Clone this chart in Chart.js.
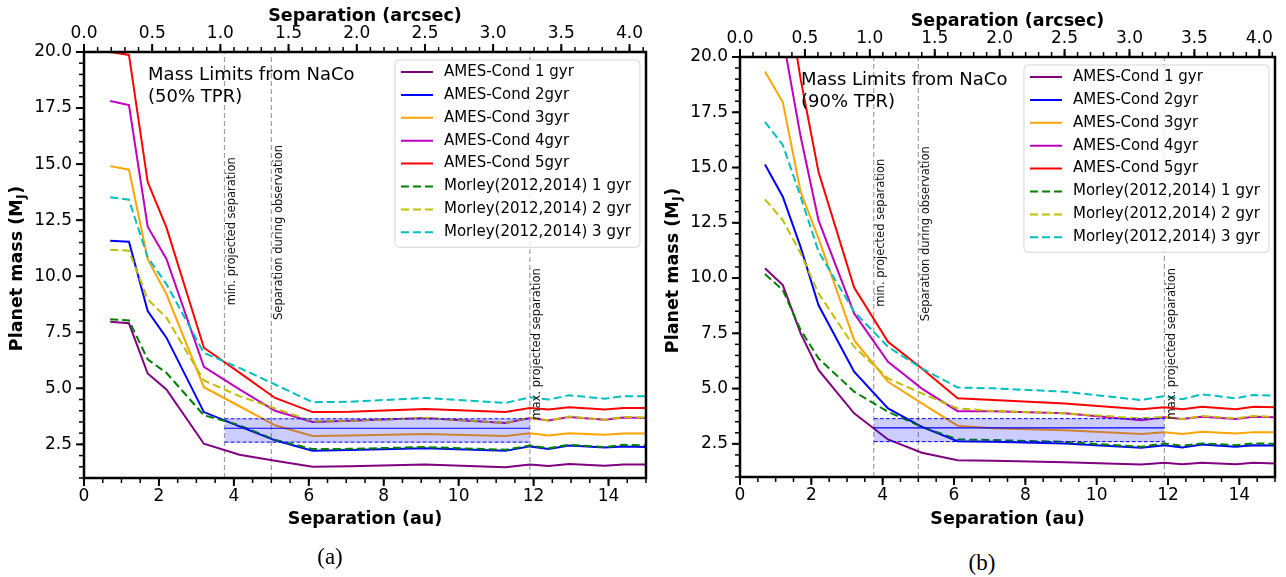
<!DOCTYPE html>
<html lang="en">
<head>
<meta charset="UTF-8">
<title>Mass limits from NaCo</title>
<script src="https://cdn.jsdelivr.net/npm/chart.js@4.4.4/dist/chart.umd.js"></script>
<style>
  body { margin: 0; background: #fff; width: 1286px; height: 577px; position: relative; overflow: hidden; }
  canvas { position: absolute; }
  #left { left: 0; top: 0; }
  #right { left: 656px; top: 5px; }
  .cap { position: absolute; font-family: "Liberation Serif", serif; font-size: 23px; transform: translate(-50%, -50%); }
</style>
</head>
<body>
<canvas id="left" width="655" height="545"></canvas>
<canvas id="right" width="630" height="540"></canvas>
<div class="cap" style="left:330px; top:557px">(a)</div>
<div class="cap" style="left:982px; top:563px">(b)</div>
<script>
// separation grid (au) shared by all curves
const sepAu = [0.7, 1.2, 1.7, 2.2, 3.2, 4.15, 5.1, 6.1, 7.1, 9.1, 11.25, 11.9, 12.4, 12.95, 13.9, 14.4, 15.0];
const distPc = 3.64; // au per arcsec for the top axis

const seriesNames = ['AMES-Cond 1 gyr', 'AMES-Cond 2gyr', 'AMES-Cond 3gyr', 'AMES-Cond 4gyr', 'AMES-Cond 5gyr',
  'Morley(2012,2014) 1 gyr', 'Morley(2012,2014) 2 gyr', 'Morley(2012,2014) 3 gyr'];
const seriesColors = ['#800080', '#0000ff', '#ffa500', '#bf00bf', '#ff0000', '#008000', '#bfbf00', '#00bfbf'];

// 50% TPR (panel a)
const ames1gyr50 = [7.97, 7.9, 5.66, 4.95, 2.53, 2.04, 1.77, 1.5, 1.52, 1.6, 1.48, 1.6, 1.54, 1.62, 1.55, 1.6, 1.6];
const ames2gyr50 = [11.58, 11.54, 8.45, 7.26, 3.94, 3.3, 2.68, 2.22, 2.25, 2.33, 2.21, 2.41, 2.29, 2.45, 2.36, 2.41, 2.38];
const ames3gyr50 = [14.91, 14.75, 10.76, 9.2, 5.05, 4.2, 3.35, 2.87, 2.89, 2.96, 2.87, 3.0, 2.9, 3.0, 2.93, 2.99, 2.99];
const ames4gyr50 = [17.81, 17.63, 12.21, 10.77, 5.96, 4.95, 4.0, 3.5, 3.55, 3.68, 3.45, 3.68, 3.56, 3.72, 3.6, 3.7, 3.68];
const ames5gyr50 = [20.0, 19.87, 14.2, 12.18, 6.81, 5.7, 4.57, 3.94, 3.95, 4.08, 3.94, 4.12, 4.05, 4.15, 4.05, 4.12, 4.12];
const morley1gyr50 = [8.08, 8.03, 6.29, 5.69, 3.8, 3.35, 2.7, 2.29, 2.3, 2.38, 2.26, 2.45, 2.33, 2.48, 2.38, 2.48, 2.46];
const morley2gyr50 = [11.18, 11.14, 8.97, 8.15, 5.35, 4.65, 4.1, 3.53, 3.55, 3.68, 3.45, 3.7, 3.56, 3.74, 3.6, 3.72, 3.7];
const morley3gyr50 = [13.52, 13.41, 10.84, 9.65, 6.58, 5.91, 5.17, 4.38, 4.4, 4.57, 4.35, 4.6, 4.5, 4.69, 4.54, 4.65, 4.65];

// 90% TPR (panel b)
const ames1gyr90 = [10.44, 9.68, 7.5, 5.84, 3.88, 2.7, 2.1, 1.76, 1.73, 1.67, 1.57, 1.64, 1.58, 1.65, 1.58, 1.64, 1.61];
const ames2gyr90 = [15.14, 13.68, 11.4, 8.78, 5.76, 4.1, 3.27, 2.62, 2.59, 2.52, 2.32, 2.44, 2.34, 2.47, 2.37, 2.44, 2.42];
const ames3gyr90 = [19.34, 17.95, 13.9, 11.8, 7.19, 5.31, 4.33, 3.32, 3.2, 3.12, 2.94, 3.02, 2.94, 3.05, 2.97, 3.03, 3.03];
const ames4gyr90 = [22.5, 20.9, 16.4, 12.62, 8.4, 6.21, 5.0, 3.98, 3.98, 3.88, 3.57, 3.7, 3.62, 3.72, 3.62, 3.72, 3.7];
const ames5gyr90 = [25.0, 24.0, 19.0, 14.81, 9.57, 7.12, 5.91, 4.56, 4.48, 4.33, 4.06, 4.15, 4.06, 4.18, 4.07, 4.18, 4.15];
const morley1gyr90 = [10.18, 9.46, 7.65, 6.37, 4.86, 3.95, 3.27, 2.7, 2.67, 2.59, 2.37, 2.52, 2.41, 2.52, 2.44, 2.52, 2.5];
const morley2gyr90 = [13.56, 12.62, 11.12, 9.31, 6.89, 5.46, 4.78, 4.1, 3.99, 3.88, 3.65, 3.72, 3.62, 3.76, 3.65, 3.76, 3.72];
const morley3gyr90 = [17.07, 16.02, 13.68, 11.2, 8.48, 6.89, 5.91, 5.05, 5.01, 4.86, 4.48, 4.66, 4.52, 4.74, 4.56, 4.71, 4.68];

// separation markers (au) and where their labels start (Mj)
const sepLines = [3.75, 5.0, 11.9];
const sepLabels = ['min. projected separation', 'Separation during observation', 'max. projected separation'];
const sepLabelY = [8.7, 8.05, 3.6];

// shaded mass range between min and max projected separation
const bandX = [3.75, 11.9];
const bandTop = 3.64, bandMid = 3.22, bandBottom = 2.6;

// axis ticks
const auTicks = [0, 2, 4, 6, 8, 10, 12, 14];
const arcsecTicks = [0, 0.5, 1.0, 1.5, 2.0, 2.5, 3.0, 3.5, 4.0];
const massTicks = [2.5, 5, 7.5, 10, 12.5, 15, 17.5, 20];
const yMin = 1, yMax = 20;

const FONT = '"DejaVu Sans", sans-serif';

function minorValues(min, max, step) {
  const out = [];
  for (let k = Math.ceil(min / step - 1e-9); k * step <= max + 1e-9; k++) out.push(k * step);
  return out;
}

function tickMarks(ctx, scale, values, len, width) {
  ctx.lineWidth = width;
  values.forEach(v => {
    const p = scale.getPixelForValue(v);
    ctx.beginPath();
    if (scale.position === 'left') { ctx.moveTo(scale.right, p); ctx.lineTo(scale.right - len, p); }
    else if (scale.position === 'bottom') { ctx.moveTo(p, scale.top); ctx.lineTo(p, scale.top + len); }
    else { ctx.moveTo(p, scale.bottom); ctx.lineTo(p, scale.bottom - len); }
    ctx.stroke();
  });
}

// matplotlib-like frame, ticks, annotations and legend
const decor = {
  id: 'decor',
  afterDatasetsDraw(chart, args, opts) {
    const { ctx, chartArea: ca, scales } = chart;
    ctx.save();
    // rotated labels beside the separation markers
    ctx.fillStyle = '#111';
    ctx.font = '11.5px ' + FONT;
    ctx.textAlign = 'left';
    ctx.textBaseline = 'top';
    sepLines.forEach((x, i) => {
      ctx.save();
      ctx.translate(scales.x.getPixelForValue(x) + 1.5, scales.y.getPixelForValue(sepLabelY[i]));
      ctx.rotate(-Math.PI / 2);
      ctx.fillText(sepLabels[i], 0, 0);
      ctx.restore();
    });
    // panel text
    ctx.fillStyle = '#000';
    ctx.font = '18px ' + FONT;
    ctx.textBaseline = 'middle';
    const tx = ca.left + 0.114 * ca.width;
    ctx.fillText('Mass Limits from NaCo', tx, ca.top + 23);
    ctx.fillText(opts.tpr, tx, ca.top + 45);
    ctx.restore();
  },
  afterDraw(chart) {
    const { ctx, chartArea: ca, scales } = chart;
    ctx.save();
    ctx.strokeStyle = '#000';
    ctx.lineWidth = 2.5;
    ctx.strokeRect(ca.left, ca.top, ca.width, ca.height);
    tickMarks(ctx, scales.x, auTicks, 8, 2);
    tickMarks(ctx, scales.x, minorValues(0, 15, 0.5), 5, 1.5);
    tickMarks(ctx, scales.xTop, arcsecTicks, 8, 2);
    tickMarks(ctx, scales.xTop, minorValues(0, 15 / distPc, 0.1), 5, 1.5);
    tickMarks(ctx, scales.y, massTicks, 8, 2);
    tickMarks(ctx, scales.y, minorValues(yMin, yMax, 0.5), 5, 1.5);

    // y title with subscript J
    const a = 'Planet mass (M', b = 'J', c = ')';
    const main = 'bold 17.5px ' + FONT, sub = 'bold 12px ' + FONT;
    ctx.font = main;
    const wa = ctx.measureText(a).width, wc = ctx.measureText(c).width;
    ctx.font = sub;
    const wb = ctx.measureText(b).width;
    ctx.translate(17, (ca.top + ca.bottom) / 2 + 4);
    ctx.rotate(-Math.PI / 2);
    ctx.fillStyle = '#000';
    ctx.textBaseline = 'middle';
    ctx.textAlign = 'left';
    let s = -(wa + wb + wc) / 2;
    ctx.font = main; ctx.fillText(a, s, 0); s += wa;
    ctx.font = sub; ctx.fillText(b, s + 0.5, 5); s += wb + 1;
    ctx.font = main; ctx.fillText(c, s, 0);
    ctx.restore();

    // legend
    ctx.save();
    ctx.font = '15px ' + FONT;
    const items = chart.data.datasets.slice(0, seriesNames.length);
    const tw = Math.max(...items.map(d => ctx.measureText(d.label).width));
    const rowH = 22.9;
    const w = 49 + tw + 9, h = 12 + rowH * (items.length - 1) + 15;
    const x0 = ca.right - 6 - w, y0 = ca.top + 8;
    ctx.beginPath();
    ctx.roundRect(x0, y0, w, h, 4);
    ctx.fillStyle = 'rgba(255,255,255,0.8)';
    ctx.fill();
    ctx.strokeStyle = 'rgba(204,204,204,0.8)';
    ctx.lineWidth = 1;
    ctx.stroke();
    items.forEach((d, i) => {
      const y = y0 + 12 + i * rowH;
      ctx.beginPath();
      ctx.setLineDash(d.borderDash);
      ctx.strokeStyle = d.borderColor;
      ctx.lineWidth = 2;
      ctx.moveTo(x0 + 6, y);
      ctx.lineTo(x0 + 38, y);
      ctx.stroke();
      ctx.setLineDash([]);
      ctx.fillStyle = '#000';
      ctx.textBaseline = 'middle';
      ctx.fillText(d.label, x0 + 49, y);
    });
    ctx.restore();
  }
};

function panel(id, series, tpr, chartTop, chartBottom, chartRight) {
  const canvas = document.getElementById(id);
  const W = canvas.width, H = canvas.height;
  const datasets = [];
  series.forEach((vals, i) => datasets.push({
    label: seriesNames[i],
    data: sepAu.map((x, j) => ({ x, y: vals[j] })),
    borderColor: seriesColors[i],
    borderWidth: 2,
    borderDash: i >= 5 ? [8, 4] : [],
    order: 20 - i
  }));
  datasets.push({
    data: bandX.map(x => ({ x, y: bandTop })),
    borderColor: '#0000ff', borderWidth: 1, borderDash: [4, 2],
    backgroundColor: 'rgba(0,0,255,0.2)', fill: '+1', order: 1
  });
  datasets.push({
    data: bandX.map(x => ({ x, y: bandBottom })),
    borderColor: '#0000ff', borderWidth: 1, borderDash: [4, 2], fill: false, order: 1
  });
  datasets.push({
    data: bandX.map(x => ({ x, y: bandMid })),
    borderColor: '#0000ff', borderWidth: 1.2, fill: false, order: 0
  });
  sepLines.forEach(x => datasets.push({
    data: [{ x, y: yMin }, { x, y: yMax }],
    borderColor: '#a0a0a0', borderWidth: 1.2, borderDash: [5, 3], fill: false, order: 30
  }));

  const tickFont = { family: 'DejaVu Sans', size: 17 };
  const titleFont = { family: 'DejaVu Sans', size: 17.5, weight: 'bold' };

  return new Chart(canvas, {
    type: 'line',
    data: { datasets },
    options: {
      responsive: false,
      animation: false,
      events: [],
      layout: { padding: { left: 0, right: W - chartRight, top: 0, bottom: 0 } },
      elements: { point: { radius: 0 }, line: { tension: 0 } },
      plugins: { legend: { display: false }, tooltip: { enabled: false }, decor: { tpr } },
      scales: {
        x: {
          type: 'linear', position: 'bottom', min: 0, max: 15, bounds: 'data',
          grid: { display: false, drawTicks: false }, border: { display: false },
          ticks: { font: tickFont, color: '#000', padding: 8.5, autoSkip: false, maxRotation: 0 },
          afterBuildTicks: s => { s.ticks = auTicks.map(v => ({ value: v })); },
          title: { display: true, text: 'Separation (au)', font: titleFont, color: '#000', padding: { top: 0, bottom: 15 } },
          afterFit: s => { s.height = H - chartBottom; s.paddingLeft = 0; s.paddingRight = 0; }
        },
        xTop: {
          type: 'linear', position: 'top', min: 0, max: 15 / distPc, bounds: 'data',
          grid: { display: false, drawTicks: false }, border: { display: false },
          ticks: { font: tickFont, color: '#000', padding: 8.5, autoSkip: false, maxRotation: 0,
            callback: v => v.toFixed(1) },
          afterBuildTicks: s => { s.ticks = arcsecTicks.map(v => ({ value: v })); },
          title: { display: true, text: 'Separation (arcsec)', font: titleFont, color: '#000', padding: { top: 5.5, bottom: 0 } },
          afterFit: s => { s.height = chartTop; s.paddingLeft = 0; s.paddingRight = 0; }
        },
        y: {
          type: 'linear', position: 'left', min: yMin, max: yMax, bounds: 'data',
          grid: { display: false, drawTicks: false }, border: { display: false },
          ticks: { font: tickFont, color: '#000', padding: 12, autoSkip: false,
            callback: v => v.toFixed(1) },
          afterBuildTicks: s => { s.ticks = massTicks.map(v => ({ value: v })); },
          afterFit: s => { s.width = 84; s.paddingTop = 0; s.paddingBottom = 0; }
        }
      }
    },
    plugins: [decor]
  });
}

panel('left',
  [ames1gyr50, ames2gyr50, ames3gyr50, ames4gyr50, ames5gyr50, morley1gyr50, morley2gyr50, morley3gyr50],
  '(50% TPR)', 52, 478, 646);
panel('right',
  [ames1gyr90, ames2gyr90, ames3gyr90, ames4gyr90, ames5gyr90, morley1gyr90, morley2gyr90, morley3gyr90],
  '(90% TPR)', 52, 472, 619);
</script>
</body>
</html>
